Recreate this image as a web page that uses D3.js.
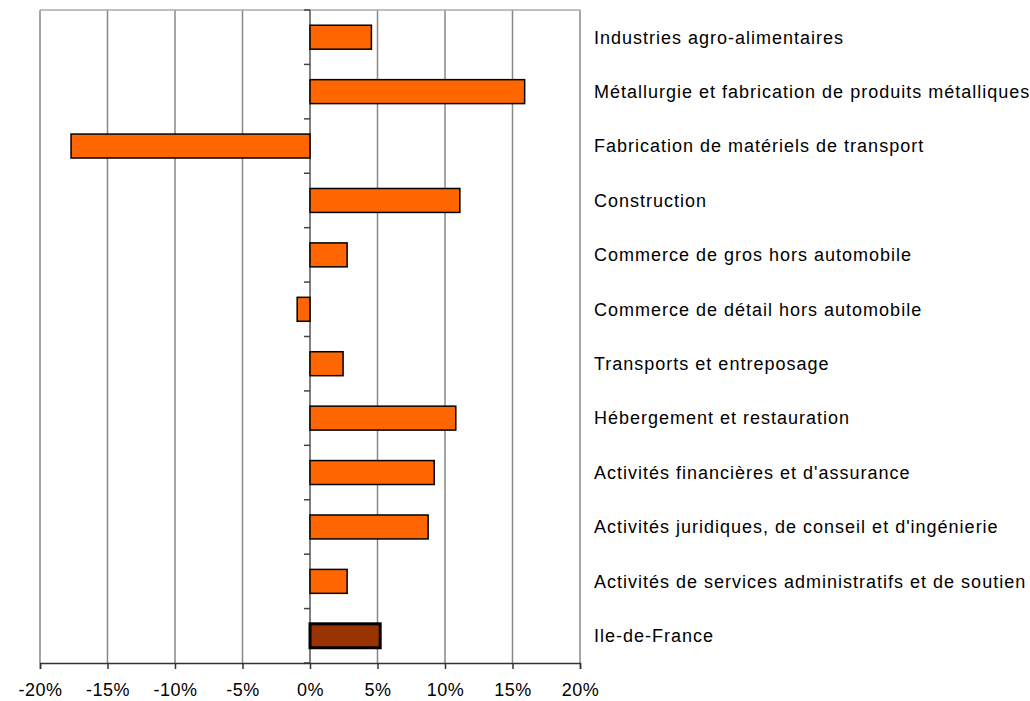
<!DOCTYPE html>
<html>
<head>
<meta charset="utf-8">
<script src="https://cdn.jsdelivr.net/npm/d3@7"></script>
<style>
  body { margin: 0; background: #fff; }
  svg text { font-family: "Liberation Sans", Arial, sans-serif; fill: #000; }
</style>
</head>
<body>
<svg id="chart" width="1030" height="701"></svg>
<script>
// --- données ---
const categories = [
  "Industries agro-alimentaires",
  "Métallurgie et fabrication de produits métalliques",
  "Fabrication de matériels de transport",
  "Construction",
  "Commerce de gros hors automobile",
  "Commerce de détail hors automobile",
  "Transports et entreposage",
  "Hébergement et restauration",
  "Activités financières et d'assurance",
  "Activités juridiques, de conseil et d'ingénierie",
  "Activités de services administratifs et de soutien",
  "Ile-de-France"
];
const values = [4.55, 15.9, -17.7, 11.1, 2.75, -0.95, 2.45, 10.8, 9.2, 8.75, 2.75, 5.2];
const xTicks = [-20, -15, -10, -5, 0, 5, 10, 15, 20];

const svg = d3.select("#chart");
const margin = { left: 40, top: 10 };
const plotW = 540, plotH = 653;
const g = svg.append("g").attr("transform", `translate(${margin.left},${margin.top})`);

const x = d3.scaleLinear().domain([-20, 20]).range([0, plotW]);
const y = d3.scaleBand().domain(categories).range([0, plotH]).paddingInner(0.56).paddingOuter(0.28);

// grille verticale
g.selectAll(".grid").data(xTicks.filter(d => d !== 0)).enter().append("line")
  .attr("x1", d => x(d)).attr("x2", d => x(d))
  .attr("y1", 0).attr("y2", plotH)
  .attr("stroke", "#888").attr("stroke-width", 1.5);

// bord supérieur
g.append("line").attr("x1", 0).attr("x2", plotW).attr("y1", 0).attr("y2", 0)
  .attr("stroke", "#aaa").attr("stroke-width", 1.5);

// axe vertical à 0 avec graduations
g.append("line").attr("x1", x(0)).attr("x2", x(0)).attr("y1", 0).attr("y2", plotH)
  .attr("stroke", "#555").attr("stroke-width", 1.5);
d3.range(categories.length + 1).forEach(i => {
  g.append("line")
    .attr("x1", x(0) - 6).attr("x2", x(0))
    .attr("y1", i * plotH / categories.length).attr("y2", i * plotH / categories.length)
    .attr("stroke", "#444").attr("stroke-width", 1.5);
});

// barres
g.selectAll(".bar").data(categories).enter().append("rect")
  .attr("x", (d, i) => x(Math.min(0, values[i])))
  .attr("y", d => y(d))
  .attr("width", (d, i) => Math.abs(x(values[i]) - x(0)))
  .attr("height", y.bandwidth())
  .attr("fill", d => d === "Ile-de-France" ? "#993300" : "#ff6600")
  .attr("stroke", "#000")
  .attr("stroke-width", d => d === "Ile-de-France" ? 3 : 1.5);

// axe horizontal
const xAxis = g.append("g").attr("transform", `translate(0,${plotH})`)
  .call(d3.axisBottom(x).tickValues(xTicks).tickSize(6).tickPadding(14).tickFormat(d => d + "%"));
xAxis.select(".domain").attr("stroke", "#333").attr("stroke-width", 1.5);
xAxis.selectAll(".tick line").attr("stroke", "#333").attr("stroke-width", 1.5);
xAxis.selectAll("text").style("font-size", "18px").style("letter-spacing", "0.5px").attr("fill", "#000");

// libellés des catégories
g.selectAll(".lab").data(categories).enter().append("text")
  .attr("x", 554)
  .attr("y", d => y(d) + y.bandwidth() / 2)
  .attr("dy", "0.35em")
  .style("font-size", "18px")
  .style("letter-spacing", "1px")
  .text(d => d);
</script>
</body>
</html>
